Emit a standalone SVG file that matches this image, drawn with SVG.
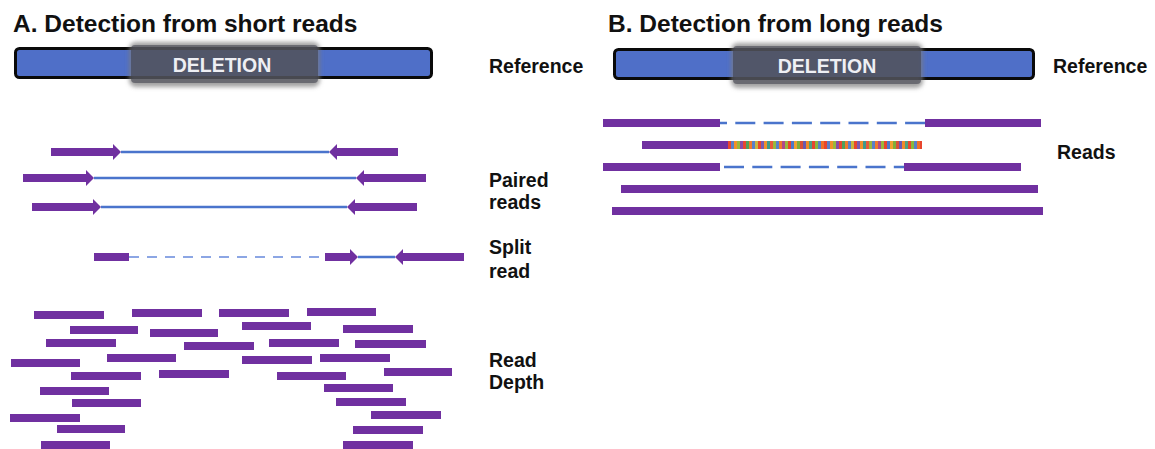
<svg xmlns="http://www.w3.org/2000/svg" width="1155" height="449" viewBox="0 0 1155 449">
<style>
  .title{font-family:"Liberation Sans",Arial,sans-serif;font-weight:bold;font-size:24.5px;fill:#111}
  .lbl{font-family:"Liberation Sans",Arial,sans-serif;font-weight:bold;font-size:19.5px;fill:#111}
  .del{font-family:"Liberation Sans",Arial,sans-serif;font-weight:bold;font-size:19.5px;fill:#eeeff4;text-anchor:middle}
  .refbar{fill:#4f6fc8;stroke:#0a0a0a;stroke-width:3}
  .delshadow{fill:#7a7a7a;fill-opacity:0.7}
  .delbox{fill:#3a3d48;fill-opacity:0.55}
  .rd{fill:#7030A0}
  .ar{fill:#7030A0}
  .pl{stroke:#4a74cc;stroke-width:2.3;fill:none}
  .sd{stroke:#8ca6e4;stroke-width:2;fill:none;stroke-dasharray:10 8}
  .ld{stroke:#4a74cc;stroke-width:2.7;fill:none;stroke-dasharray:20 8.3}
</style>
<defs>
  <filter id="soft" x="-10%" y="-30%" width="120%" height="160%">
    <feGaussianBlur stdDeviation="2"/>
  </filter>
  <pattern id="seq" patternUnits="userSpaceOnUse" x="728" y="0" width="96" height="449">
    <rect x="0" y="0" width="3" height="449" fill="#e8462e"/>
    <rect x="3" y="0" width="3" height="449" fill="#5b7fc8"/>
    <rect x="6" y="0" width="3" height="449" fill="#f0902a"/>
    <rect x="9" y="0" width="3" height="449" fill="#9ab83c"/>
    <rect x="12" y="0" width="3" height="449" fill="#8a4ca6"/>
    <rect x="15" y="0" width="3" height="449" fill="#e8462e"/>
    <rect x="18" y="0" width="3" height="449" fill="#4fa05a"/>
    <rect x="21" y="0" width="3" height="449" fill="#f07a2a"/>
    <rect x="24" y="0" width="3" height="449" fill="#5b7fc8"/>
    <rect x="27" y="0" width="3" height="449" fill="#c9b540"/>
    <rect x="30" y="0" width="3" height="449" fill="#e8462e"/>
    <rect x="33" y="0" width="3" height="449" fill="#7a5ab0"/>
    <rect x="36" y="0" width="3" height="449" fill="#f0902a"/>
    <rect x="39" y="0" width="3" height="449" fill="#3f9a8a"/>
    <rect x="42" y="0" width="3" height="449" fill="#e85a3a"/>
    <rect x="45" y="0" width="3" height="449" fill="#9ab83c"/>
    <rect x="48" y="0" width="3" height="449" fill="#5b7fc8"/>
    <rect x="51" y="0" width="3" height="449" fill="#f07a2a"/>
    <rect x="54" y="0" width="3" height="449" fill="#b04a8a"/>
    <rect x="57" y="0" width="3" height="449" fill="#9ab83c"/>
    <rect x="60" y="0" width="3" height="449" fill="#e8462e"/>
    <rect x="63" y="0" width="3" height="449" fill="#4f78c9"/>
    <rect x="66" y="0" width="3" height="449" fill="#f0a030"/>
    <rect x="69" y="0" width="3" height="449" fill="#7fae3a"/>
    <rect x="72" y="0" width="3" height="449" fill="#d8503a"/>
    <rect x="75" y="0" width="3" height="449" fill="#6a5ab0"/>
    <rect x="78" y="0" width="3" height="449" fill="#f08a28"/>
    <rect x="81" y="0" width="3" height="449" fill="#4fa080"/>
    <rect x="84" y="0" width="3" height="449" fill="#e8462e"/>
    <rect x="87" y="0" width="3" height="449" fill="#8ab83c"/>
    <rect x="90" y="0" width="3" height="449" fill="#5b7fc8"/>
    <rect x="93" y="0" width="3" height="449" fill="#f0702a"/>
  </pattern>
</defs>
<rect width="1155" height="449" fill="#ffffff"/>

<g id="title-a"><text class="title" x="13" y="32">A. Detection from short reads</text></g>
<g id="title-b"><text class="title" x="608" y="32">B. Detection from long reads</text></g>

<g id="reference-a">
  <rect class="refbar" x="15.5" y="48.5" width="416" height="29" rx="4"/>
  <rect class="delshadow" x="129" y="42" width="191" height="45" rx="7" filter="url(#soft)"/>
  <rect class="delbox" x="131" y="45" width="187" height="38" rx="4"/>
  <text class="del" x="222" y="72">DELETION</text>
</g>
<g id="reference-b">
  <rect class="refbar" x="614.5" y="49.5" width="419" height="29" rx="4"/>
  <rect class="delshadow" x="731" y="43" width="192" height="45" rx="7" filter="url(#soft)"/>
  <rect class="delbox" x="733" y="46" width="188" height="38" rx="4"/>
  <text class="del" x="827" y="73">DELETION</text>
</g>

<g id="labels">
  <text class="lbl" x="489" y="73">Reference</text>
  <text class="lbl" x="1053" y="73">Reference</text>
  <text class="lbl" x="1057" y="159">Reads</text>
  <text class="lbl" x="489" y="187">Paired</text>
  <text class="lbl" x="489" y="209">reads</text>
  <text class="lbl" x="489" y="254">Split</text>
  <text class="lbl" x="489" y="278">read</text>
  <text class="lbl" x="489" y="367">Read</text>
  <text class="lbl" x="489" y="389">Depth</text>
</g>

<g id="connectors">
  <line class="pl" x1="121" y1="152" x2="329" y2="152"/>
  <line class="pl" x1="94" y1="178" x2="356" y2="178"/>
  <line class="pl" x1="101" y1="207" x2="347" y2="207"/>
  <line class="sd" x1="129" y1="257" x2="325" y2="257"/>
  <line class="pl" x1="358" y1="257" x2="395" y2="257"/>
  <line class="ld" x1="720" y1="123" x2="925" y2="123" stroke-dashoffset="13"/>
  <line class="ld" x1="720" y1="167" x2="904" y2="167" stroke-dashoffset="24.3"/>
</g>

<g id="paired-reads">
  <polygon class="ar" points="51,148 113,148 113,144 121,152 113,160 113,156 51,156"/>
  <polygon class="ar" points="398,148 337,148 337,144 329,152 337,160 337,156 398,156"/>
  <polygon class="ar" points="23,174 86,174 86,170 94,178 86,186 86,182 23,182"/>
  <polygon class="ar" points="426,174 364,174 364,170 356,178 364,186 364,182 426,182"/>
  <polygon class="ar" points="32,203 93,203 93,199 101,207 93,215 93,211 32,211"/>
  <polygon class="ar" points="417,203 355,203 355,199 347,207 355,215 355,211 417,211"/>
</g>

<g id="split-read">
  <rect class="ar" x="94" y="253" width="35" height="8"/>
  <polygon class="ar" points="325,253 350,253 350,249 358,257 350,265 350,261 325,261"/>
  <polygon class="ar" points="464,253 403,253 403,249 395,257 403,265 403,261 464,261"/>
</g>

<g id="read-depth">
  <rect class="rd" x="34" y="311" width="70" height="8"/>
  <rect class="rd" x="132" y="309" width="70" height="8"/>
  <rect class="rd" x="219" y="309" width="70" height="8"/>
  <rect class="rd" x="307" y="308" width="69" height="8"/>
  <rect class="rd" x="70" y="326" width="68" height="8"/>
  <rect class="rd" x="150" y="329" width="68" height="8"/>
  <rect class="rd" x="242" y="322" width="69" height="8"/>
  <rect class="rd" x="343" y="325" width="70" height="8"/>
  <rect class="rd" x="46" y="339" width="70" height="8"/>
  <rect class="rd" x="184" y="342" width="70" height="8"/>
  <rect class="rd" x="269" y="339" width="70" height="8"/>
  <rect class="rd" x="355" y="340" width="71" height="8"/>
  <rect class="rd" x="11" y="359" width="69" height="8"/>
  <rect class="rd" x="107" y="354" width="69" height="8"/>
  <rect class="rd" x="242" y="356" width="70" height="8"/>
  <rect class="rd" x="320" y="354" width="70" height="8"/>
  <rect class="rd" x="71" y="372" width="70" height="8"/>
  <rect class="rd" x="159" y="370" width="70" height="8"/>
  <rect class="rd" x="277" y="372" width="69" height="8"/>
  <rect class="rd" x="384" y="368" width="68" height="8"/>
  <rect class="rd" x="40" y="387" width="69" height="8"/>
  <rect class="rd" x="324" y="384" width="69" height="8"/>
  <rect class="rd" x="72" y="399" width="69" height="8"/>
  <rect class="rd" x="336" y="398" width="70" height="8"/>
  <rect class="rd" x="10" y="414" width="70" height="8"/>
  <rect class="rd" x="371" y="411" width="70" height="8"/>
  <rect class="rd" x="57" y="425" width="68" height="8"/>
  <rect class="rd" x="353" y="426" width="70" height="8"/>
  <rect class="rd" x="41" y="441" width="69" height="8"/>
  <rect class="rd" x="343" y="441" width="70" height="8"/>
</g>

<g id="long-reads">
  <rect class="rd" x="603" y="119" width="117" height="8"/>
  <rect class="rd" x="925" y="119" width="116" height="8"/>
  <rect class="rd" x="642" y="141" width="86" height="8"/>
  <rect x="728" y="141" width="194" height="8" fill="url(#seq)"/>
  <rect class="rd" x="603" y="163" width="117" height="8"/>
  <rect class="rd" x="904" y="163" width="117" height="8"/>
  <rect class="rd" x="621" y="185" width="417" height="8"/>
  <rect class="rd" x="612" y="207" width="431" height="8"/>
</g>
</svg>
